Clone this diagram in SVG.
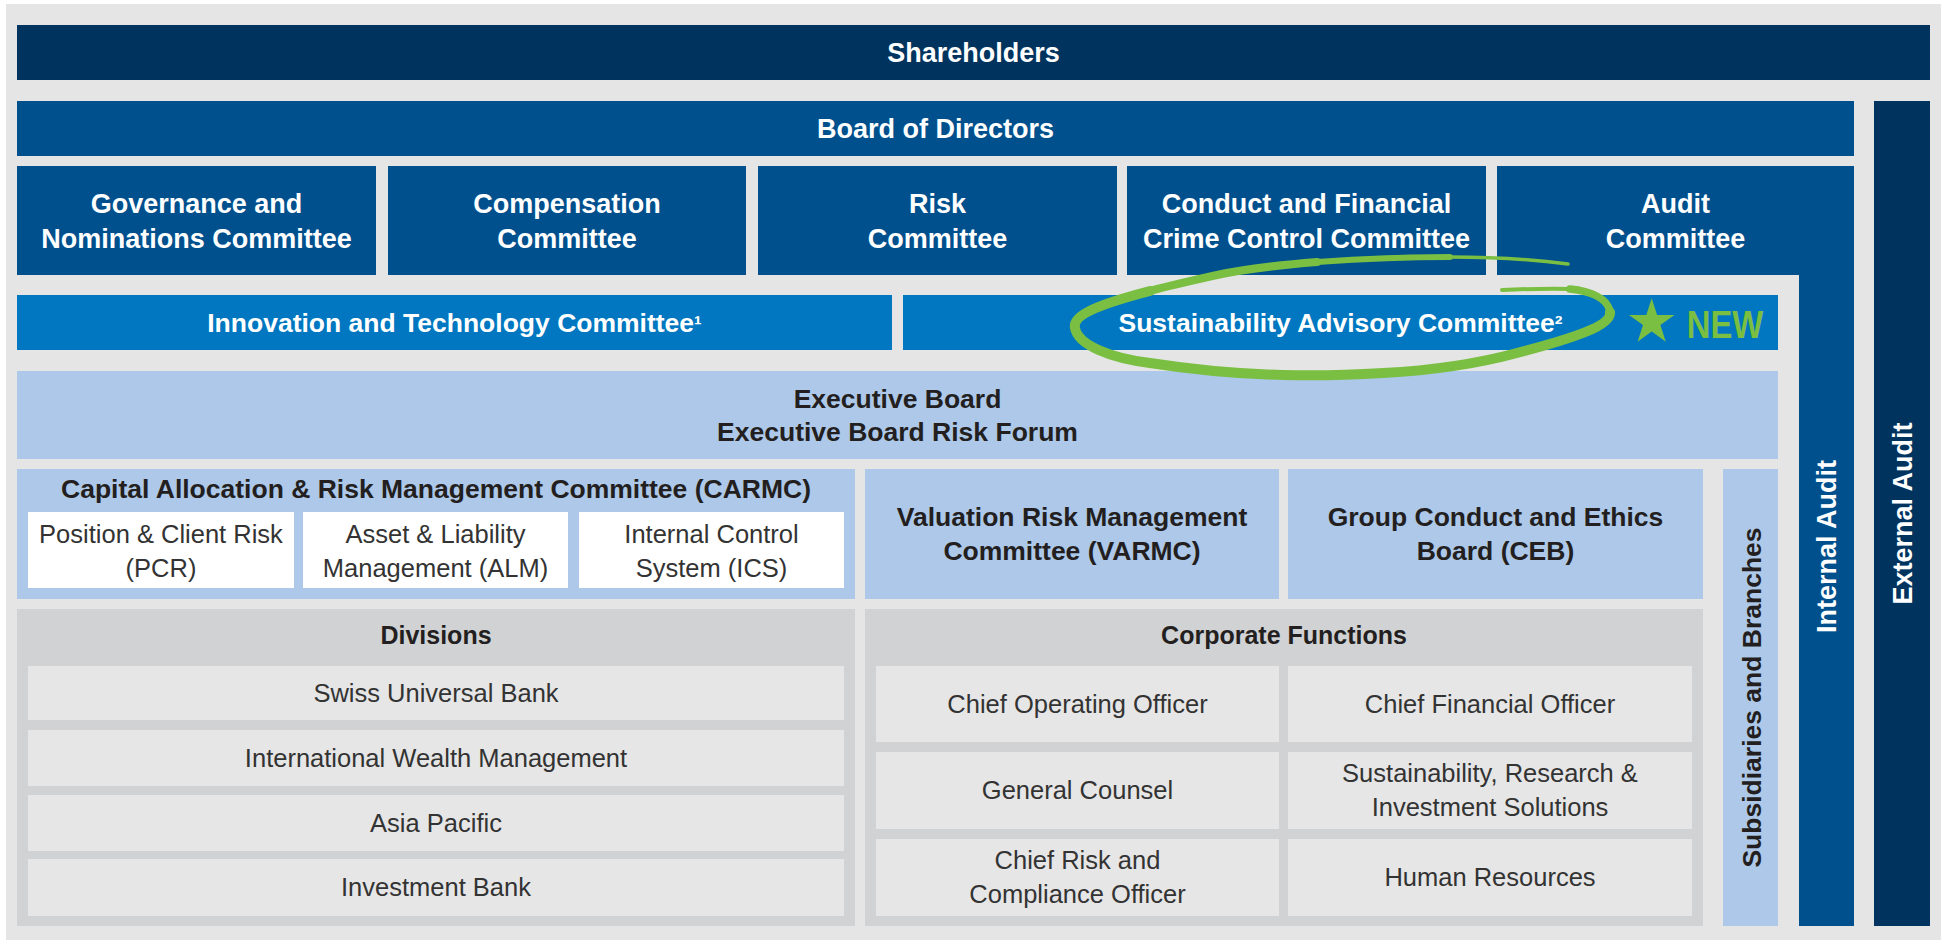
<svg xmlns="http://www.w3.org/2000/svg" width="1945" height="940" viewBox="0 0 1945 940">
<style>
.navy{fill:#00345f}
.blue{fill:#00508e}
.mid{fill:#0077c0}
.light{fill:#adc8e9}
.white{fill:#ffffff}
.grey{fill:#d1d2d4}
.item{fill:#e6e6e6}
text{font-family:"Liberation Sans",Arial,sans-serif;text-anchor:middle}
.tw{fill:#ffffff;font-weight:bold;font-size:27px}
.tws{fill:#ffffff;font-weight:bold;font-size:26.5px}
.td{fill:#231f20;font-weight:bold;font-size:26.5px}
.th{fill:#231f20;font-weight:bold;font-size:25px}
.tr{fill:#333333;font-size:25.5px}
.new{fill:#7abf42;font-weight:bold;font-size:38px;text-anchor:start}
.green{fill:none;stroke:#7abf42;stroke-linecap:round;stroke-linejoin:round}
</style>
<rect x="6" y="4" width="1935" height="936" fill="#e5e5e5"/>
<g id="shareholders"><rect class="navy" x="17" y="25" width="1913" height="55"/><text class="tw" x="973.5" y="62">Shareholders</text></g>
<g id="board"><rect class="blue" x="17" y="101" width="1837" height="55"/><text class="tw" x="935.5" y="137.5">Board of Directors</text></g>
<g id="external-audit"><rect class="navy" x="1874" y="101" width="56" height="825"/><text class="tw" transform="translate(1911.5,513.5) rotate(-90)">External Audit</text></g>
<g id="governance"><rect class="blue" x="17" y="166" width="359" height="109"/><text class="tw" x="196.5" y="213">Governance and</text><text class="tw" x="196.5" y="248">Nominations Committee</text></g>
<g id="compensation"><rect class="blue" x="388" y="166" width="358" height="109"/><text class="tw" x="567" y="213">Compensation</text><text class="tw" x="567" y="248">Committee</text></g>
<g id="risk"><rect class="blue" x="758" y="166" width="359" height="109"/><text class="tw" x="937.5" y="213">Risk</text><text class="tw" x="937.5" y="248">Committee</text></g>
<g id="conduct"><rect class="blue" x="1127" y="166" width="359" height="109"/><text class="tw" x="1306.5" y="213">Conduct and Financial</text><text class="tw" x="1306.5" y="248">Crime Control Committee</text></g>
<g id="audit"><path class="blue" d="M1497,166 H1854 V926 H1799 V275 H1497 Z"/><text class="tw" x="1675.5" y="213">Audit</text><text class="tw" x="1675.5" y="248">Committee</text><text class="tw" transform="translate(1836,546.5) rotate(-90)">Internal Audit</text></g>
<g id="innovation"><rect class="mid" x="17" y="295" width="875" height="55"/><text class="tws" x="454.5" y="332">Innovation and Technology Committee<tspan font-size="23">¹</tspan></text></g>
<g id="sustainability"><rect class="mid" x="903" y="295" width="875" height="55"/><text class="tws" x="1340.5" y="332">Sustainability Advisory Committee<tspan font-size="23">²</tspan></text>
<polygon fill="#7abf42" points="1651.7,298.3 1657.1,314.9 1674.5,314.9 1660.4,325.1 1665.8,341.7 1651.7,331.4 1637.6,341.7 1643.0,325.1 1628.9,314.9 1646.3,314.9"/>
<text class="new" x="1686.7" y="337.5" textLength="76.6" lengthAdjust="spacingAndGlyphs">NEW</text></g>
<g id="executive-board"><rect class="light" x="17" y="371" width="1761" height="88"/><text class="td" x="897.5" y="408">Executive Board</text><text class="td" x="897.5" y="441">Executive Board Risk Forum</text></g>
<g id="carmc"><rect class="light" x="17" y="469" width="838" height="130"/><text class="td" x="436" y="498">Capital Allocation &amp; Risk Management Committee (CARMC)</text>
<rect class="white" x="28" y="512" width="266" height="76"/><text class="tr" x="161" y="542.5">Position &amp; Client Risk</text><text class="tr" x="161" y="577">(PCR)</text>
<rect class="white" x="303" y="512" width="265" height="76"/><text class="tr" x="435.5" y="542.5">Asset &amp; Liability</text><text class="tr" x="435.5" y="577">Management (ALM)</text>
<rect class="white" x="579" y="512" width="265" height="76"/><text class="tr" x="711.5" y="542.5">Internal Control</text><text class="tr" x="711.5" y="577">System (ICS)</text></g>
<g id="varmc"><rect class="light" x="865" y="469" width="414" height="130"/><text class="td" x="1072" y="525.5">Valuation Risk Management</text><text class="td" x="1072" y="559.5">Committee (VARMC)</text></g>
<g id="ceb"><rect class="light" x="1288" y="469" width="415" height="130"/><text class="td" x="1495.5" y="525.5">Group Conduct and Ethics</text><text class="td" x="1495.5" y="559.5">Board (CEB)</text></g>
<g id="subsidiaries"><rect class="light" x="1723" y="469" width="55" height="457"/><text class="td" transform="translate(1760.5,697.5) rotate(-90)">Subsidiaries and Branches</text></g>
<g id="divisions"><rect class="grey" x="17" y="609" width="838" height="317"/><text class="th" x="436" y="644">Divisions</text>
<rect class="item" x="28" y="666" width="816" height="54"/><text class="tr" x="436" y="701.5">Swiss Universal Bank</text>
<rect class="item" x="28" y="730" width="816" height="56"/><text class="tr" x="436" y="766.5">International Wealth Management</text>
<rect class="item" x="28" y="795" width="816" height="56"/><text class="tr" x="436" y="831.5">Asia Pacific</text>
<rect class="item" x="28" y="859" width="816" height="57"/><text class="tr" x="436" y="896">Investment Bank</text></g>
<g id="corporate-functions"><rect class="grey" x="865" y="609" width="838" height="317"/><text class="th" x="1284" y="644">Corporate Functions</text>
<rect class="item" x="876" y="666" width="403" height="76"/><text class="tr" x="1077.5" y="712.5">Chief Operating Officer</text>
<rect class="item" x="1288" y="666" width="404" height="76"/><text class="tr" x="1490" y="712.5">Chief Financial Officer</text>
<rect class="item" x="876" y="752" width="403" height="77"/><text class="tr" x="1077.5" y="799">General Counsel</text>
<rect class="item" x="1288" y="752" width="404" height="77"/><text class="tr" x="1490" y="781.75">Sustainability, Research &amp;</text><text class="tr" x="1490" y="816.25">Investment Solutions</text>
<rect class="item" x="876" y="839" width="403" height="77"/><text class="tr" x="1077.5" y="868.75">Chief Risk and</text><text class="tr" x="1077.5" y="903.25">Compliance Officer</text>
<rect class="item" x="1288" y="839" width="404" height="77"/><text class="tr" x="1490" y="886">Human Resources</text></g>
<g id="highlight">
<path class="green" stroke-width="3.5" d="M1568,264 C1530,259 1490,257 1450,257"/>
<path class="green" stroke-width="6" d="M1450,257 C1400,257 1360,259 1317,262"/>
<path class="green" stroke-width="8" d="M1317,262 C1280,265 1245,269 1217,275 C1190,281 1168,286 1150,291"/>
<path class="green" stroke-width="10" d="M1150,291 C1100,304 1072,315 1075,328 C1078,345 1110,358 1150,363 C1195,370 1240,374 1283,375 C1320,376 1350,375 1383,373 C1440,370 1480,363 1517,353 C1575,338 1612,325 1610,312"/>
<path class="green" stroke-width="7.5" d="M1610,312 C1608,298 1590,291 1570,289"/>
<path class="green" stroke-width="4" d="M1570,289 C1550,288 1525,289 1502,290"/>
</g>
</svg>
